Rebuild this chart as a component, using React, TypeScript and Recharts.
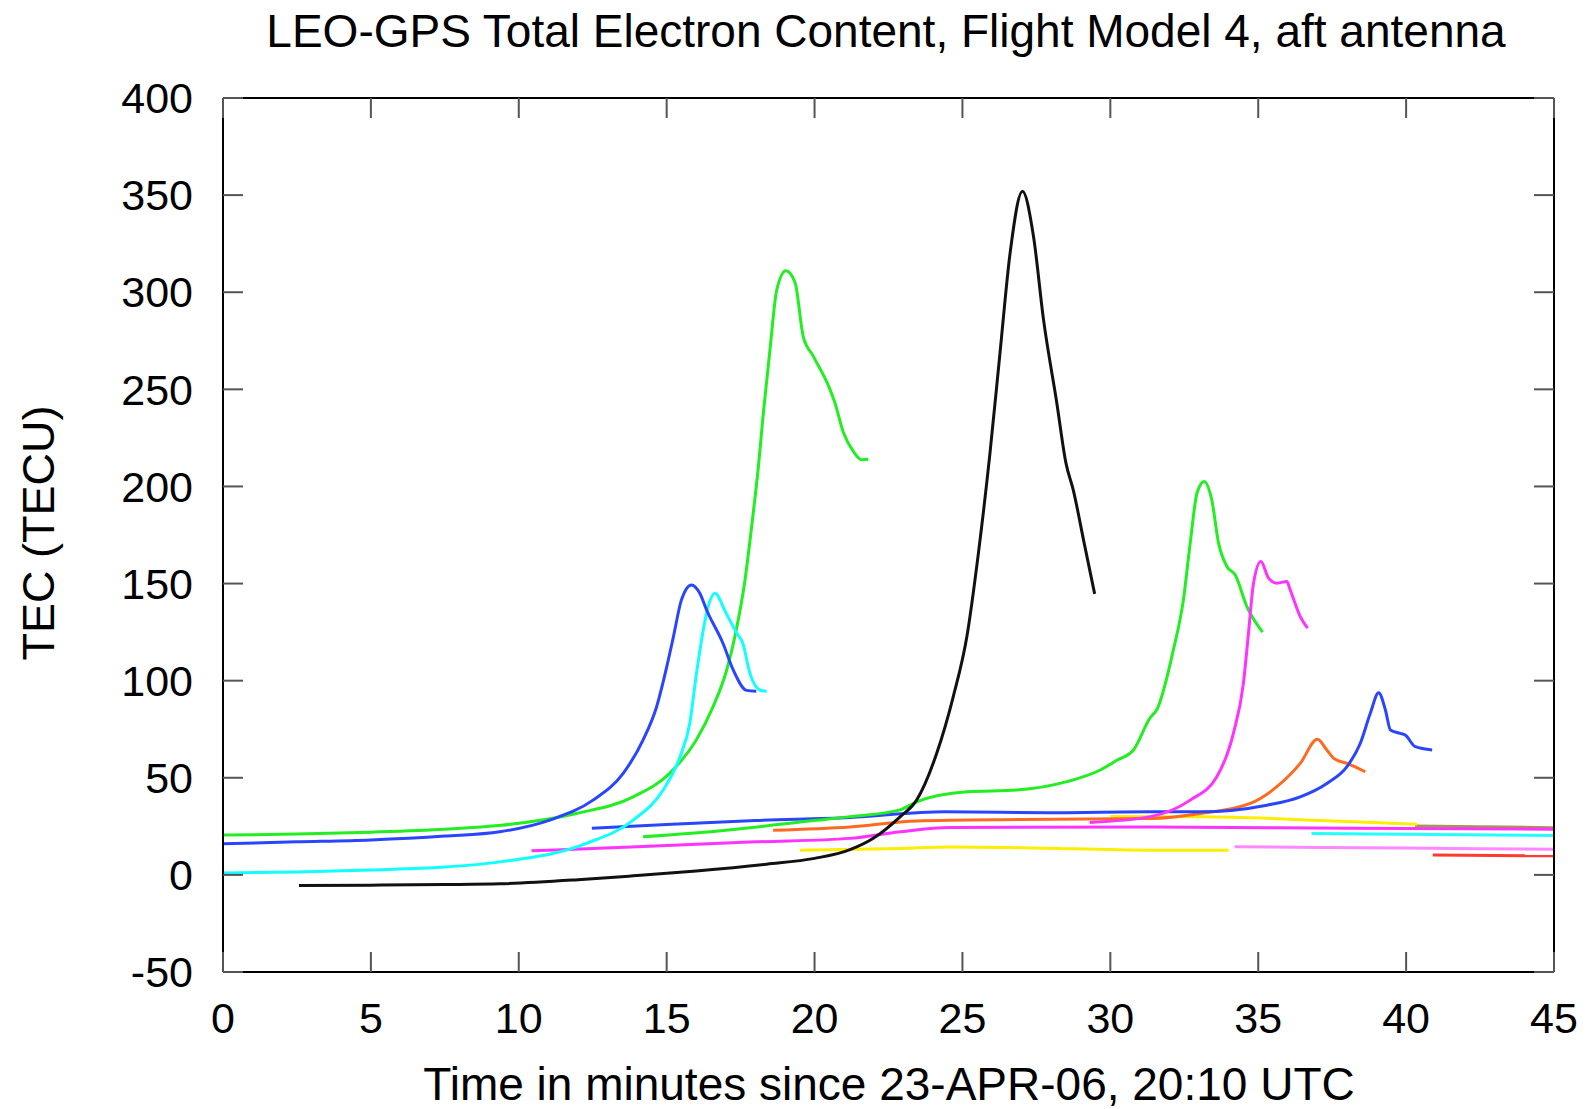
import { LineChart, Line, XAxis, YAxis } from "recharts";

// [minutes, TECU]
const green1: [number, number][] = [
  [0, 20.5], [2.5, 21], [5, 22], [7.5, 23.5], [9.4, 25.5], [11.95, 31.6], [13.87, 40.2],
  [15.1, 52.3], [16.0, 69.4], [16.57, 86.6], [17.03, 105.5], [17.31, 123], [17.65, 152],
  [17.87, 179], [18.1, 210], [18.27, 238], [18.49, 270], [18.72, 301], [19.03, 311],
  [19.34, 305], [19.62, 277], [19.96, 267], [20.52, 250], [20.69, 243], [20.97, 228],
  [21.31, 218], [21.59, 213.8], [21.82, 214],
];
const blue1: [number, number][] = [
  [0, 16], [2.5, 17], [5, 18], [7.5, 20], [9.36, 22.2], [11.05, 28.2], [12.51, 38.5],
  [13.53, 52.3], [14.2, 69.4], [14.66, 86.6], [15.0, 107], [15.22, 122], [15.5, 141.6],
  [15.84, 149.3], [16.12, 145], [16.35, 136.4], [16.91, 119], [17.25, 105.5], [17.7, 95],
  [18.03, 94.5],
];
const cyan1: [number, number][] = [
  [0, 1], [2.5, 1.5], [5, 2.5], [7.5, 4], [9.36, 6.7], [12.29, 16.2], [13.87, 28.2],
  [14.88, 43.7], [15.45, 60.8], [15.78, 78], [16.01, 104], [16.18, 121], [16.4, 138],
  [16.63, 145], [17.0, 135], [17.35, 125], [17.58, 119], [17.81, 104], [18.15, 95.2],
  [18.38, 94.5],
];
const black1: [number, number][] = [
  [2.57, -5.5], [5, -5.3], [7.5, -5], [9.36, -4.6], [12, -2.5], [13.87, -0.5], [16, 2],
  [18.38, 5.5], [20, 8.5], [21.2, 13], [22.0, 19], [22.89, 29.9], [23.45, 38.5], [24.13, 62.6],
  [24.69, 91.8], [25.15, 122.7], [25.54, 165.7], [25.93, 217], [26.27, 268.8], [26.61, 320],
  [27.03, 352], [27.4, 329], [27.74, 286], [28.19, 243], [28.5, 212], [28.75, 198],
  [29.1, 172], [29.47, 144.7],
];
const green2: [number, number][] = [
  [14.2, 19.6], [17, 23], [20, 28], [21.2, 30], [22.89, 33.5], [23.45, 37.6], [25.15, 42.8],
  [26.84, 43.7], [28.53, 48], [29.66, 54], [30.22, 59], [30.78, 64.3], [31.35, 81],
  [31.57, 85], [32.13, 115.8], [32.47, 141.6], [32.7, 170.8], [32.93, 196.6], [33.17, 202.6],
  [33.43, 193], [33.66, 170.8], [33.94, 158.8], [34.22, 154.5], [34.62, 138], [35.15, 125],
];
const blue2: [number, number][] = [
  [12.47, 24], [15, 26], [18, 28], [21.2, 29.6], [24.4, 32.5], [28, 32], [31.35, 32.5],
  [33.04, 32.5], [35.29, 35.9], [36.42, 40.2], [37.32, 47.1], [38.0, 55.7], [38.45, 67.7],
  [38.79, 83.2], [39.07, 93.8], [39.3, 84.9], [39.47, 74.6], [39.8, 72.9], [39.97, 72],
  [40.31, 66], [40.88, 64.3],
];
const orange1: [number, number][] = [
  [18.6, 23], [21.2, 24.7], [23.45, 27.8], [27, 28.5], [31.35, 29], [33.04, 31.6],
  [34.73, 36.8], [35.63, 45.4], [36.42, 57.4], [37.0, 69.8], [37.32, 64.3], [37.55, 60],
  [38.0, 57.4], [38.62, 53.1],
];
const magenta1: [number, number][] = [
  [10.43, 12.4], [14, 14.5], [18, 17], [21.2, 18.8], [22.89, 22.2], [24.58, 24.4],
  [31.35, 24.7], [38, 24], [45, 23.5],
];
const magenta2: [number, number][] = [
  [29.3, 27], [31.35, 30], [32.7, 38.5], [33.6, 50.5], [34.16, 72.9], [34.5, 98.7],
  [34.67, 124.4], [34.84, 150], [35.09, 161.3], [35.35, 152.8], [35.63, 150.2], [35.97, 151],
  [36.08, 146.8], [36.42, 133], [36.67, 127],
];
const yellowLow: [number, number][] = [
  [19.5, 12.7], [22.89, 13.6], [24.58, 14.4], [27, 14], [31.35, 12.7], [34.0, 12.7],
];
const yellowHigh: [number, number][] = [
  [30, 30], [33.04, 29.9], [37.55, 27.8], [40.37, 26.1],
];
const olive1: [number, number][] = [[40.3, 25.2], [45, 24.3]];
const pink1: [number, number][] = [[34.2, 14.5], [40, 13.8], [45, 13.2]];
const cyan2: [number, number][] = [[36.8, 21.3], [45, 20.3]];
const red1: [number, number][] = [[40.9, 10.2], [45, 9.8]];

const xTicks = [0, 5, 10, 15, 20, 25, 30, 35, 40, 45];
const yTicks = [-50, 0, 50, 100, 150, 200, 250, 300, 350, 400];

const series: { name: string; color: string; points: [number, number][] }[] = [
  { name: "red1", color: "#ff3a30", points: red1 },
  { name: "pink1", color: "#ff88ff", points: pink1 },
  { name: "cyan2", color: "#22ffff", points: cyan2 },
  { name: "olive1", color: "#a09a50", points: olive1 },
  { name: "yellowHigh", color: "#ffee00", points: yellowHigh },
  { name: "yellowLow", color: "#ffee00", points: yellowLow },
  { name: "magenta1", color: "#ff33ff", points: magenta1 },
  { name: "orange1", color: "#ff6a20", points: orange1 },
  { name: "blue2", color: "#2a45ff", points: blue2 },
  { name: "green2", color: "#22ee22", points: green2 },
  { name: "magenta2", color: "#ff33ff", points: magenta2 },
  { name: "green1", color: "#22ee22", points: green1 },
  { name: "cyan1", color: "#11ffff", points: cyan1 },
  { name: "blue1", color: "#2a45ff", points: blue1 },
  { name: "black1", color: "#111111", points: black1 },
];

const FONT = "'Liberation Sans', Arial, sans-serif";
const TICK = 20;
const TICK_COLOR = "#555";
const W = 1592;
const H = 1109;
const M = { top: 97, right: 37 };
const PLOT_TOP = M.top + 1;
const PLOT_RIGHT = W - M.right - 1;

// inward ticks, mirrored on the top / right edges like gnuplot
const BottomTick = (p: any) => (
  <g>
    <line x1={p.x} x2={p.x} y1={p.y - 30} y2={p.y - 30 - TICK} stroke={TICK_COLOR} strokeWidth={2} />
    <line x1={p.x} x2={p.x} y1={PLOT_TOP} y2={PLOT_TOP + TICK} stroke={TICK_COLOR} strokeWidth={2} />
    <text x={p.x} y={p.y} dy="0.71em" textAnchor="middle" fontSize={43} fontFamily={FONT} fill="#000">
      {p.payload.value}
    </text>
  </g>
);
const LeftTick = (p: any) => (
  <g>
    <line x1={p.x + 30} x2={p.x + 30 + TICK} y1={p.y} y2={p.y} stroke={TICK_COLOR} strokeWidth={2} />
    <line x1={PLOT_RIGHT} x2={PLOT_RIGHT - TICK} y1={p.y} y2={p.y} stroke={TICK_COLOR} strokeWidth={2} />
    <text x={p.x} y={p.y} dy="0.355em" textAnchor="end" fontSize={43} fontFamily={FONT} fill="#000">
      {p.payload.value}
    </text>
  </g>
);

const axisLine = { stroke: "#000", strokeWidth: 2 };

export default function App() {
  return (
    <div style={{ position: "absolute", left: 0, top: 0, width: W, height: H, background: "#fff", fontFamily: FONT }}>
      <LineChart width={W} height={H} margin={{ top: M.top, right: M.right, bottom: 0, left: 0 }}>
        <XAxis xAxisId="b" type="number" dataKey="t" domain={[0, 45]} ticks={xTicks} height={137}
          tickSize={0} tickMargin={30} tickLine={false} axisLine={axisLine} tick={<BottomTick />} interval={0} />
        <XAxis xAxisId="t" orientation="top" type="number" dataKey="t" domain={[0, 45]} height={1}
          tickLine={false} axisLine={axisLine} tick={false} />
        <YAxis yAxisId="l" type="number" domain={[-50, 400]} ticks={yTicks} width={223} allowDataOverflow
          tickSize={0} tickMargin={30} tickLine={false} axisLine={axisLine} tick={<LeftTick />} interval={0} />
        <YAxis yAxisId="r" orientation="right" type="number" domain={[-50, 400]} width={1}
          tickLine={false} axisLine={axisLine} tick={false} />
        {series.map((s) => (
          <Line key={s.name} xAxisId="b" yAxisId="l" data={s.points.map(([t, v]) => ({ t, v }))}
            dataKey="v" type="monotone" stroke={s.color} strokeWidth={3} dot={false}
            isAnimationActive={false} />
        ))}
      </LineChart>
      <div style={{ position: "absolute", left: 886, top: 31, transform: "translate(-50%, -50%)", fontSize: 46, whiteSpace: "nowrap" }}>
        LEO-GPS Total Electron Content, Flight Model 4, aft antenna
      </div>
      <div style={{ position: "absolute", left: 889, top: 1084, transform: "translate(-50%, -50%)", fontSize: 46, whiteSpace: "nowrap" }}>
        Time in minutes since 23-APR-06, 20:10 UTC
      </div>
      <div style={{ position: "absolute", left: 39, top: 533, transform: "translate(-50%, -50%) rotate(-90deg)", fontSize: 45, whiteSpace: "nowrap" }}>
        TEC (TECU)
      </div>
    </div>
  );
}
